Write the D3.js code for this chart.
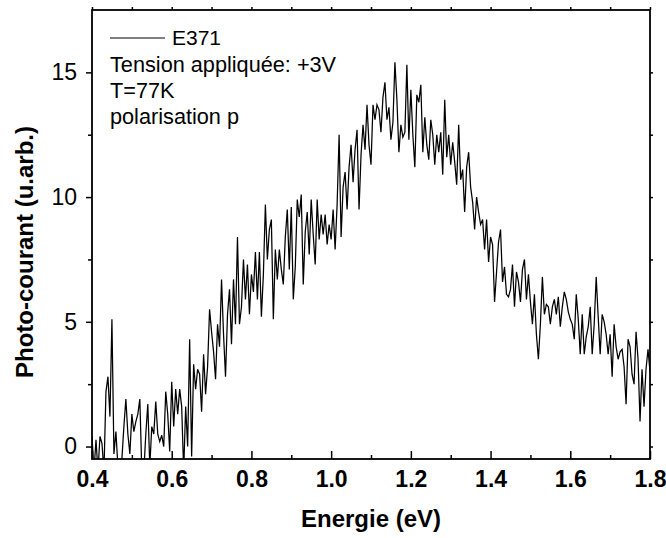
<!DOCTYPE html>
<html>
<head>
<meta charset="utf-8">
<script src="https://cdn.jsdelivr.net/npm/d3@7"></script>
<style>
  body { margin: 0; background: #fff; }
  svg { display: block; font-family: "Liberation Sans", Arial, sans-serif; }
</style>
</head>
<body>
<div id="chart"></div>
<script>
// spectrum sampled every 0.005 eV starting at 0.4 eV
var energyStart = 0.4,
    energyStep = 0.005;

var photoCourant = [
  0.4, -1, 0.27, -1, 0.4, 0.13, -1, 2.2, 2.8, 1.2,
  5.1, -0.3, 0.6, -0.8, -1, -0.5, 0.8, 1.9, 0.5, -0.3,
  1.3, 0.6, 1.0, 1.3, 1.9, -1, -1, 0.5, 1.7, -0.8,
  0.8, 0.5, 1.8, 0.5, 0.2, 0.45, 0.0, 2.2, 1.3, -0.2,
  2.6, 0.8, 2.3, 1.3, 2.3, 1.6, -1, 1.6, 0.0, 4.3,
  -0.4, 3.3, 2.3, 3.1, 2.9, 1.4, 3.7, 2.1, 3.2, 5.5,
  4.6, 3.8, 2.7, 4.9, 4.0, 6.7, 4.5, 2.8, 5.3, 6.3,
  4.1, 6.7, 4.9, 8.4, 4.9, 5.6, 7.5, 5.9, 7.3, 5.3,
  6.9, 6.2, 7.8, 5.9, 7.8, 5.2, 6.9, 9.7, 7.5, 8.7,
  9.1, 5.1, 7.9, 6.7, 7.9, 7.1, 6.5, 8.4,
  9.5, 7.1, 9.6, 5.9, 7.2, 9.9, 9.2, 10.1, 6.5, 8.6,
  9.4, 7.7, 9.9, 8.5, 7.3, 9.9, 8.3, 9.3, 8.5, 9.3,
  8.1, 8.9, 8.3, 9.5, 7.9, 9.7, 12.5, 8.4, 10.4, 11.0,
  9.5, 11.2, 12.1, 10.6, 11.9, 12.7, 9.5, 11.7, 12.9, 11.9,
  13.7, 12.1, 11.3, 13.7, 13.1, 13.7, 13.5,
  12.6, 14.0, 14.6, 13.1, 13.6, 12.3, 13.0, 15.4, 13.9, 11.8,
  12.9, 12.4, 12.6, 15.3, 12.3, 14.3, 12.5, 11.2, 14.1, 13.8,
  14.5, 11.8, 13.2, 12.1, 11.5, 13.1, 12.5, 11.3, 12.5, 11.8,
  12.6, 10.9, 13.9, 11.6, 12.5, 11.3, 12.2, 11.4, 10.5, 12.9,
  10.7, 11.1, 9.4, 11.2, 11.8, 10.4, 9.8, 8.7,
  10.0, 9.4, 8.9, 9.1, 7.9, 9.1, 7.4, 8.4, 8.1, 5.8,
  7.0, 8.2, 8.7, 6.6, 7.2, 6.1, 6.0, 6.3, 7.3, 5.6,
  7.0, 6.6, 5.8, 7.1, 7.5, 5.9, 6.9, 5.8, 4.9, 6.1,
  4.5, 3.5, 4.9, 6.8, 5.3, 5.7, 5.6, 4.9, 5.6, 5.9,
  5.3, 6.0, 4.8, 5.6, 6.2,
  5.9, 5.4, 5.1, 4.9, 4.3, 6.1, 5.1, 3.7, 5.3, 3.7,
  4.4, 4.8, 5.6, 3.7, 4.9, 6.8, 5.2, 3.7, 5.3, 5.0,
  4.5, 3.7, 4.5, 2.8, 4.9, 4.0, 3.5, 3.8, 3.9, 3.2,
  1.7, 4.3, 4.0, 2.9, 2.5, 4.6, 3.5, 1.0, 3.1, 1.6,
  3.1, 3.9, 3.0
];

var xTicks = [0.4, 0.6, 0.8, 1.0, 1.2, 1.4, 1.6, 1.8];
var xMinorTicks = [0.5, 0.7, 0.9, 1.1, 1.3, 1.5, 1.7];
var yTicks = [0, 5, 10, 15];
var yMinorTicks = [2.5, 7.5, 12.5];
var legendLines = ["Tension appliquée: +3V", "T=77K", "polarisation p"];

var width = 666, height = 538;
var margin = {top: 10, right: 16, bottom: 79, left: 92};

var svg = d3.select("#chart").append("svg")
    .attr("width", width)
    .attr("height", height);

var x = d3.scaleLinear().domain([0.4, 1.8]).range([margin.left, width - margin.right]);
var y = d3.scaleLinear().domain([-0.5, 17.5]).range([height - margin.bottom, margin.top]);

var data = photoCourant.map(function(v, i) {
    return {e: energyStart + i * energyStep, v: v};
});

svg.append("clipPath").attr("id", "plotclip")
  .append("rect")
    .attr("x", x(0.4)).attr("y", y(17.5))
    .attr("width", x(1.8) - x(0.4)).attr("height", y(-0.5) - y(17.5));

var line = d3.line()
    .x(function(d) { return x(d.e); })
    .y(function(d) { return y(d.v); });

svg.append("path")
    .datum(data)
    .attr("clip-path", "url(#plotclip)")
    .attr("fill", "none")
    .attr("stroke", "#000")
    .attr("stroke-width", 1.25)
    .attr("d", line);

// bottom axis: ticks point inward
var bottom = svg.append("g")
    .attr("transform", "translate(0," + y(-0.5) + ")")
    .call(d3.axisBottom(x).tickValues(xTicks).tickSize(-8).tickPadding(12)
        .tickFormat(d3.format(".1f")));
svg.append("g")
    .attr("transform", "translate(0," + y(-0.5) + ")")
    .call(d3.axisBottom(x).tickValues(xMinorTicks).tickSize(-4).tickFormat(""));

bottom.selectAll("text")
    .attr("font-size", 23)
    .attr("font-weight", "bold")
    .attr("font-family", "Liberation Sans, Arial, sans-serif")
    .attr("fill", "#000");

// top axis: small outward ticks
svg.append("g")
    .attr("transform", "translate(0," + y(17.5) + ")")
    .call(d3.axisTop(x).tickValues(xTicks.concat(xMinorTicks)).tickSize(3).tickFormat(""));

// left axis: outward ticks
var left = svg.append("g")
    .attr("transform", "translate(" + x(0.4) + ",0)")
    .call(d3.axisLeft(y).tickValues(yTicks).tickSize(6).tickPadding(9));
svg.append("g")
    .attr("transform", "translate(" + x(0.4) + ",0)")
    .call(d3.axisLeft(y).tickValues(yMinorTicks).tickSize(4).tickFormat(""));

left.selectAll("text")
    .attr("font-size", 23)
    .attr("font-family", "Liberation Sans, Arial, sans-serif")
    .attr("fill", "#000");

// right axis: small outward ticks
svg.append("g")
    .attr("transform", "translate(" + x(1.8) + ",0)")
    .call(d3.axisRight(y).tickValues(yTicks.concat(yMinorTicks)).tickSize(3).tickFormat(""));

svg.selectAll(".domain").remove();
svg.selectAll(".tick line").attr("stroke", "#000").attr("stroke-width", 1.5);

// frame
svg.append("rect")
    .attr("x", x(0.4)).attr("y", y(17.5))
    .attr("width", x(1.8) - x(0.4)).attr("height", y(-0.5) - y(17.5))
    .attr("fill", "none")
    .attr("stroke", "#000")
    .attr("stroke-width", 1.8);

// axis titles
svg.append("text")
    .attr("x", (x(0.4) + x(1.8)) / 2)
    .attr("y", 527)
    .attr("text-anchor", "middle")
    .attr("font-size", 24)
    .attr("font-weight", "bold")
    .text("Energie (eV)");

svg.append("text")
    .attr("transform", "translate(33,252) rotate(-90)")
    .attr("text-anchor", "middle")
    .attr("font-size", 24)
    .attr("font-weight", "bold")
    .text("Photo-courant (u.arb.)");

// legend
svg.append("line")
    .attr("x1", 110).attr("x2", 165)
    .attr("y1", 38).attr("y2", 38)
    .attr("stroke", "#000")
    .attr("stroke-width", 1.1);

svg.append("text")
    .attr("x", 172).attr("y", 45)
    .attr("font-size", 21)
    .text("E371");

svg.selectAll("text.leg")
    .data(legendLines)
  .enter().append("text")
    .attr("class", "leg")
    .attr("x", 110)
    .attr("y", function(d, i) { return 72 + i * 26; })
    .attr("font-size", 21.7)
    .text(function(d) { return d; });
</script>
</body>
</html>
